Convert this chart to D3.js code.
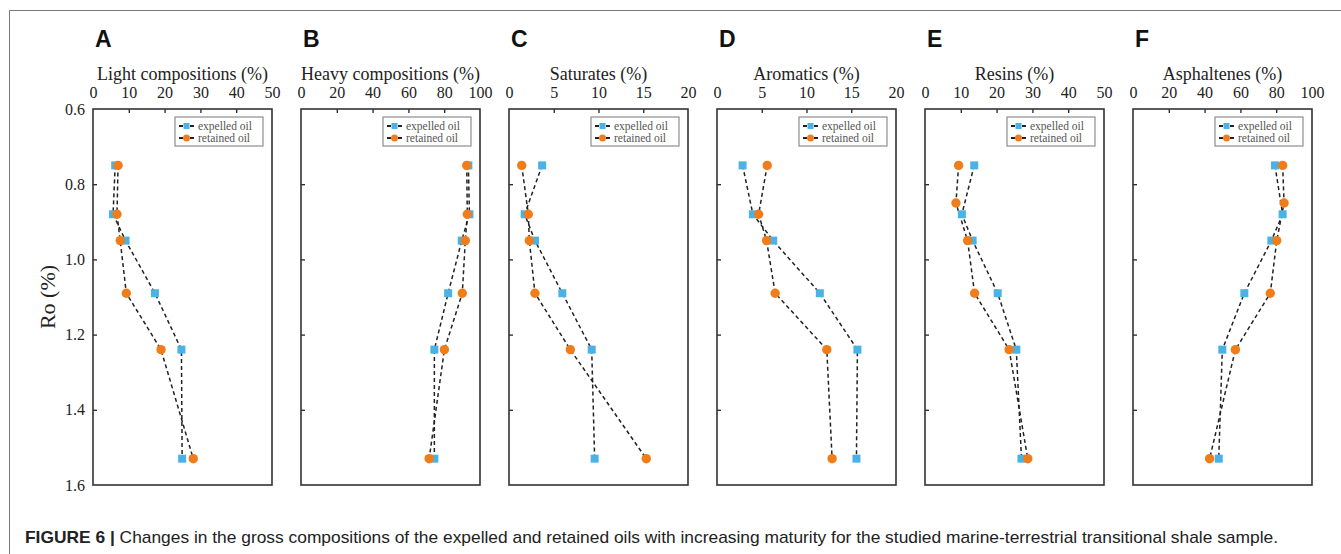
<!DOCTYPE html>
<html>
<head>
<meta charset="utf-8">
<script src="https://cdn.jsdelivr.net/npm/d3@7"></script>
<style>
  body{margin:0;background:#fff;}
  svg{display:block;}
</style>
</head>
<body>
<div id="chart"></div>
<script>
// maturity (Ro %) of each sample
const roExpelled = [0.75, 0.88, 0.95, 1.09, 1.24, 1.53];
const roRetained = [0.75, 0.88, 0.95, 1.09, 1.24, 1.53];
const roRetainedEF = [0.75, 0.85, 0.95, 1.09, 1.24, 1.53];

const panelLetters = ["A", "B", "C", "D", "E", "F"];
const panelTitles = ["Light compositions (%)", "Heavy compositions (%)", "Saturates (%)",
                     "Aromatics (%)", "Resins (%)", "Asphaltenes (%)"];
const panelMax = [50, 100, 20, 20, 50, 100];
const panelStep = [10, 20, 5, 5, 10, 20];

const lightExpelled = [6.2, 5.6, 9.1, 17.3, 24.7, 24.9];
const lightRetained = [7.0, 6.7, 7.6, 9.3, 19.0, 28.0];
const heavyExpelled = [93.5, 94.1, 89.8, 82.2, 74.5, 74.5];
const heavyRetained = [92.6, 92.9, 91.8, 90.1, 80.1, 71.6];
const satExpelled = [3.7, 1.75, 2.9, 5.96, 9.24, 9.57];
const satRetained = [1.42, 2.16, 2.27, 2.9, 6.85, 15.34];
const aroExpelled = [2.86, 4.01, 6.28, 11.49, 15.69, 15.58];
const aroRetained = [5.61, 4.65, 5.54, 6.5, 12.27, 12.86];
const resExpelled = [13.75, 10.3, 13.3, 20.3, 25.5, 26.95];
const resRetained = [9.39, 8.64, 11.9, 13.85, 23.5, 28.7];
const aspExpelled = [79.3, 83.6, 77.3, 62.2, 49.9, 47.9];
const aspRetained = [83.6, 84.4, 80.3, 76.7, 57.2, 42.8];

const expelledSets = [lightExpelled, heavyExpelled, satExpelled, aroExpelled, resExpelled, aspExpelled];
const retainedSets = [lightRetained, heavyRetained, satRetained, aroRetained, resRetained, aspRetained];
const retainedRo = [roRetained, roRetained, roRetained, roRetained, roRetainedEF, roRetainedEF];

const roTicks = [0.6, 0.8, 1.0, 1.2, 1.4, 1.6];

(function(){
    let W=1341, H=554;
    let svg=d3.select("#chart").append("svg").attr("width",W).attr("height",H);
    let blue="#4bb2e6", orange="#f07d1a";
    let serif="'Liberation Serif','Times New Roman',serif";

    // outer frame (only top and left edges are visible)
    svg.append("path").attr("d","M9.5,"+(H+5)+"V10.5H"+(W+5))
        .attr("fill","none").attr("stroke","#777").attr("stroke-width",1);

    let top=109, bottom=485, pw=179;
    let y=d3.scaleLinear().domain([0.6,1.6]).range([top,bottom]);

    for (let i=0;i<6;i++){
        let left=93+i*208;
        let x=d3.scaleLinear().domain([0,panelMax[i]]).range([left,left+pw]);
        let g=svg.append("g");
        let xt=d3.range(0,panelMax[i]+0.001,panelStep[i]);

        // top axis labels
        let ax=g.append("g").attr("transform","translate(0,"+top+")")
            .call(d3.axisTop(x).tickValues(xt).tickSizeInner(-4).tickSizeOuter(0).tickPadding(11));
        ax.select(".domain").remove();
        ax.selectAll(".tick line").filter(function(d){return d===0||d===panelMax[i];}).remove();
        ax.selectAll(".tick line").attr("stroke","#222").attr("stroke-width",1.3);
        ax.selectAll("text").attr("font-family",serif).attr("font-size",16).attr("fill","#222");

        // left axis
        let ay=g.append("g").attr("transform","translate("+left+",0)")
            .call(d3.axisLeft(y).tickValues(roTicks).tickSizeInner(-4).tickSizeOuter(0).tickPadding(8)
                  .tickFormat(d3.format(".1f")));
        ay.select(".domain").remove();
        ay.selectAll(".tick line").filter(function(d){return d===0.6||d===1.6;}).remove();
        ay.selectAll(".tick line").attr("stroke","#222").attr("stroke-width",1.3);
        if (i===0){
            ay.selectAll("text").attr("font-family",serif).attr("font-size",16).attr("fill","#222");
        } else {
            ay.selectAll("text").remove();
        }

        g.append("rect").attr("x",left).attr("y",top).attr("width",pw).attr("height",bottom-top)
            .attr("fill","none").attr("stroke","#333").attr("stroke-width",1.6);

        g.append("text").attr("x",left+pw/2).attr("y",80).attr("text-anchor","middle")
            .attr("font-family",serif).attr("font-size",18).attr("fill","#222").text(panelTitles[i]);
        g.append("text").attr("x",left+2).attr("y",47)
            .attr("font-family","'Liberation Sans',Arial,sans-serif").attr("font-weight","bold")
            .attr("font-size",23).attr("fill","#111").text(panelLetters[i]);

        let exp=roExpelled.map(function(r,k){return [expelledSets[i][k],r];});
        let ret=retainedRo[i].map(function(r,k){return [retainedSets[i][k],r];});
        let line=d3.line().x(function(d){return x(d[0]);}).y(function(d){return y(d[1]);});
        [exp,ret].forEach(function(data){
            g.append("path").datum(data).attr("d",line).attr("fill","none")
                .attr("stroke","#222").attr("stroke-width",1.5).attr("stroke-dasharray","4,3");
        });
        g.selectAll(".sq").data(exp).enter().append("rect")
            .attr("x",function(d){return x(d[0])-4;}).attr("y",function(d){return y(d[1])-4;})
            .attr("width",8).attr("height",8).attr("fill",blue);
        g.selectAll(".ci").data(ret).enter().append("circle")
            .attr("cx",function(d){return x(d[0]);}).attr("cy",function(d){return y(d[1]);})
            .attr("r",4.7).attr("fill",orange);

        // legend
        let lx=left+pw-97, ly=top+8;
        let lg=g.append("g").attr("transform","translate("+lx+","+ly+")");
        lg.append("rect").attr("width",88).attr("height",29).attr("fill","#fff")
            .attr("stroke","#777").attr("stroke-width",1);
        [["expelled oil","sq"],["retained oil","ci"]].forEach(function(item,k){
            let yy=9+k*12;
            lg.append("line").attr("x1",4).attr("x2",19).attr("y1",yy).attr("y2",yy)
                .attr("stroke","#222").attr("stroke-width",1.8).attr("stroke-dasharray","4,7");
            if (item[1]==="sq"){
                lg.append("rect").attr("x",8.5).attr("y",yy-3).attr("width",6).attr("height",6).attr("fill",blue);
            } else {
                lg.append("circle").attr("cx",11.5).attr("cy",yy).attr("r",3.5).attr("fill",orange);
            }
            lg.append("text").attr("x",23).attr("y",yy+3.5).attr("font-family",serif)
                .attr("font-size",11.5).attr("fill","#555").text(item[0]);
        });
    }

    svg.append("text").attr("x",47).attr("y",297).attr("transform","rotate(-90,47,297)")
        .attr("text-anchor","middle").attr("dy","0.35em").attr("font-family",serif)
        .attr("font-size",22).attr("fill","#222").text("Ro (%)");

    let cap=svg.append("text").attr("x",25).attr("y",543)
        .attr("font-family","'Liberation Sans Narrow','Liberation Sans',Arial,sans-serif")
        .attr("font-size",17).attr("fill","#222")
        .attr("textLength",1253).attr("lengthAdjust","spacingAndGlyphs");
    cap.append("tspan").attr("font-weight","bold").text("FIGURE 6 | ");
    cap.append("tspan").text("Changes in the gross compositions of the expelled and retained oils with increasing maturity for the studied marine-terrestrial transitional shale sample.");
})();
</script>
</body>
</html>
